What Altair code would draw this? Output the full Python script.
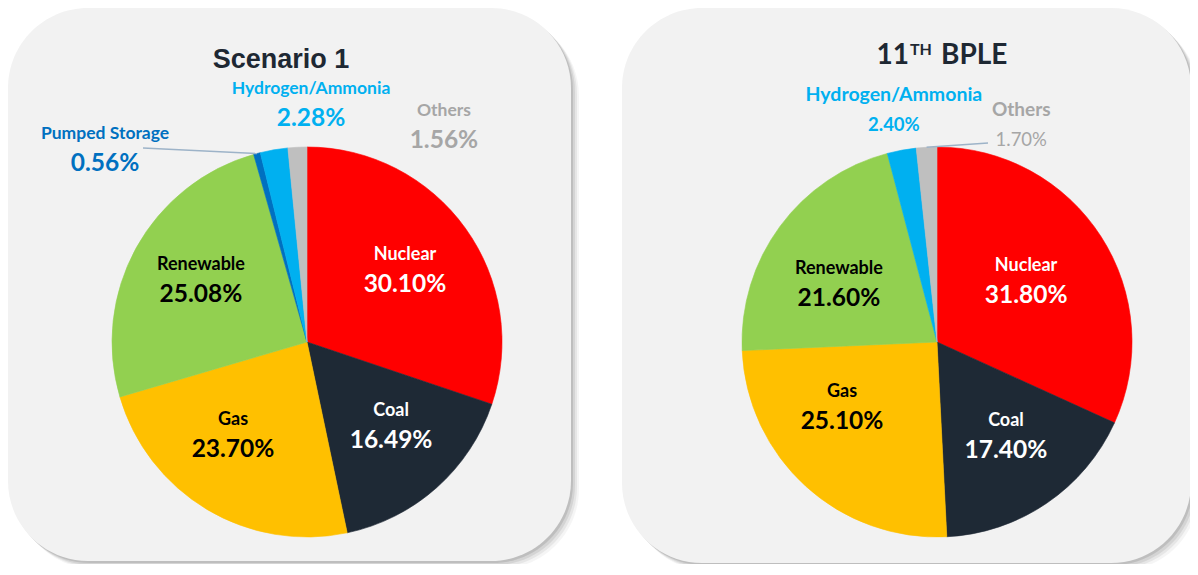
import math
import altair as alt
import pandas as pd

# ---------------- data ----------------
SCENARIO_1_CATEGORIES = ["Nuclear", "Coal", "Gas", "Renewable", "Pumped Storage", "Hydrogen/Ammonia", "Others"]
SCENARIO_1_VALUES = [30.10, 16.49, 23.70, 25.08, 0.56, 2.28, 1.56]

BPLE_11_CATEGORIES = ["Nuclear", "Coal", "Gas", "Renewable", "Hydrogen/Ammonia", "Others"]
BPLE_11_VALUES = [31.80, 17.40, 25.10, 21.60, 2.40, 1.70]

TITLE_1 = "Scenario 1"
TITLE_2_PARTS = ["11", "TH", "BPLE"]  # "11" + superscript "TH" + " BPLE"

# ---------------- styles / layout ----------------
ALL_CATEGORIES = ["Nuclear", "Coal", "Gas", "Renewable", "Pumped Storage", "Hydrogen/Ammonia", "Others"]
SLICE_COLORS = ["#FF0000", "#1E2935", "#FFC000", "#92D050", "#0070C0", "#00B0F0", "#BFBFBF"]
LABEL_COLORS = {
    "Nuclear": "#FFFFFF", "Coal": "#FFFFFF", "Gas": "#000000", "Renewable": "#000000",
    "Pumped Storage": "#0070C0", "Hydrogen/Ammonia": "#00B0F0", "Others": "#A6A6A6",
}
FONT = "Lato"
TITLE_COLOR = "#1E2833"
PANEL_FILL = "#F2F2F2"
LEADER_COLOR = "#9DB3C8"
W, H = 1182, 556
RADIUS = 195

# label layout: angle nudge (deg, relative to slice middle), radius (px), name size, pct size, pct bold
LAYOUT_1 = {
    "Nuclear": (-0.6, 121.6, 18, 24.5, True),
    "Coal": (-3.4, 118.8, 18, 24.5, True),
    "Gas": (7.5, 119.2, 18, 24.5, True),
    "Renewable": (1.4, 122.8, 18, 24.5, True),
    "Pumped Storage": (-31.4, 279.5, 17.5, 24.5, True),
    "Hydrogen/Ammonia": (10.7, 238.0, 17.5, 24.5, True),
    "Others": (35.2, 255.6, 17.5, 24.5, True),
}
LAYOUT_2 = {
    "Nuclear": (-1.8, 108.2, 18, 24.5, True),
    "Coal": (-2.2, 116.2, 18, 24.5, True),
    "Gas": (13.3, 115.1, 18, 24.5, True),
    "Renewable": (-5.8, 113.9, 18, 24.5, True),
    "Hydrogen/Ammonia": (-0.1, 235.7, 19.5, 18.5, True),
    "Others": (24.3, 232.5, 19, 18.5, False),
}

PIES = [
    dict(cats=SCENARIO_1_CATEGORIES, vals=SCENARIO_1_VALUES, cx=299, cy=334, layout=LAYOUT_1,
         leader=("Pumped Storage", 135, 140), panel=(0, 563, 0, 553)),
    dict(cats=BPLE_11_CATEGORIES, vals=BPLE_11_VALUES, cx=929, cy=334, layout=LAYOUT_2,
         leader=("Others", 980, 135), panel=(614, 1183, 0, 555)),
]

THETA = alt.Scale(domain=[0, 1])
one = pd.DataFrame({"k": [0]})


def pie_frame(cats, vals, layout):
    total = sum(vals)
    rows, acc = [], 0.0
    for c, v in zip(cats, vals):
        s, e = acc / total, (acc + v) / total
        acc += v
        nud, lr, ns, ps, bold = layout[c]
        mid = (s + e) / 2
        rows.append(dict(cat=c, value=v, start=s, end=e, mid=mid, lt=mid + nud / 360.0, lr=lr,
                         name=c, pct=f"{v:.2f}%", ns=ns, ps=ps, tc=LABEL_COLORS[c],
                         w="bold" if bold else "normal"))
    return pd.DataFrame(rows)


layers = []

# panels with soft shadow
for p in PIES:
    x1, x2, y1, y2 = p["panel"]
    for off, op in [(2, 0.10), (4, 0.08), (6, 0.06), (8, 0.04)]:
        layers.append(alt.Chart(one).mark_rect(cornerRadius=80, color="#000000", opacity=op).encode(
            x=alt.value(x1 + off), x2=alt.value(x2 + off), y=alt.value(y1 + off), y2=alt.value(y2 + off)))
for p in PIES:
    x1, x2, y1, y2 = p["panel"]
    layers.append(alt.Chart(one).mark_rect(cornerRadius=80, color=PANEL_FILL).encode(
        x=alt.value(x1), x2=alt.value(x2), y=alt.value(y1), y2=alt.value(y2)))

for p in PIES:
    df = pie_frame(p["cats"], p["vals"], p["layout"])
    cx, cy = p["cx"], p["cy"]
    arc = alt.Chart(df).mark_arc(x=cx, y=cy, outerRadius=RADIUS, strokeWidth=0.6).encode(
        theta=alt.Theta("start:Q", scale=THETA, stack=False),
        theta2="end:Q",
        color=alt.Color("cat:N", scale=alt.Scale(domain=ALL_CATEGORIES, range=SLICE_COLORS), legend=None),
        stroke=alt.Stroke("cat:N", scale=alt.Scale(domain=ALL_CATEGORIES, range=SLICE_COLORS), legend=None),
    )
    layers.append(arc)

    # leader line: from label side to slice edge at the slice middle
    lc, lx, ly = p["leader"]
    mid = float(df.loc[df["cat"] == lc, "mid"].iloc[0]) * 2 * math.pi
    ex, ey = cx + RADIUS * math.sin(mid), cy - RADIUS * math.cos(mid)
    layers.append(alt.Chart(one).mark_rule(color=LEADER_COLOR, strokeWidth=1.5).encode(
        x=alt.value(lx), y=alt.value(ly), x2=alt.value(ex), y2=alt.value(ey)))

    names = alt.Chart(df).mark_text(x=cx, y=cy, dy=-15, font=FONT, fontWeight="bold",
                                    align="center", baseline="middle").encode(
        theta=alt.Theta("lt:Q", scale=THETA, stack=False),
        radius=alt.Radius("lr:Q", scale=None),
        text="name:N",
        color=alt.Color("tc:N", scale=None),
        size=alt.Size("ns:Q", scale=None),
    )
    layers.append(names)
    for wt in ["bold", "normal"]:
        pct = alt.Chart(df).transform_filter(alt.datum.w == wt).mark_text(
            x=cx, y=cy, dy=15, font=FONT, fontWeight=wt, align="center", baseline="middle").encode(
            theta=alt.Theta("lt:Q", scale=THETA, stack=False),
            radius=alt.Radius("lr:Q", scale=None),
            text="pct:N",
            color=alt.Color("tc:N", scale=None),
            size=alt.Size("ps:Q", scale=None),
        )
        layers.append(pct)

# titles
layers.append(alt.Chart(pd.DataFrame({"t": [TITLE_1]})).mark_text(
    x=273, y=60, font="Liberation Sans", fontWeight="bold", fontSize=27, color=TITLE_COLOR,
    align="center", baseline="alphabetic").encode(text="t:N"))
t2 = pd.DataFrame({"t": TITLE_2_PARTS})
layers.append(alt.Chart(t2).transform_filter(alt.datum.t == TITLE_2_PARTS[0]).mark_text(
    x=901, y=56, font=FONT, fontWeight="bold", fontSize=28, color=TITLE_COLOR,
    align="right", baseline="alphabetic").encode(text="t:N"))
layers.append(alt.Chart(t2).transform_filter(alt.datum.t == TITLE_2_PARTS[1]).mark_text(
    x=902, y=47, font=FONT, fontWeight="bold", fontSize=16, color=TITLE_COLOR,
    align="left", baseline="alphabetic").encode(text="t:N"))
layers.append(alt.Chart(t2).transform_filter(alt.datum.t == TITLE_2_PARTS[2]).mark_text(
    x=933, y=56, font=FONT, fontWeight="bold", fontSize=28, color=TITLE_COLOR,
    align="left", baseline="alphabetic").encode(text="t:N"))

chart = alt.layer(*layers).properties(
    width=W, height=H, padding=0, autosize=alt.AutoSizeParams(type="none")
).configure_view(stroke=None)

chart.save("out.html", embed_options={"renderer": "svg", "actions": False})
